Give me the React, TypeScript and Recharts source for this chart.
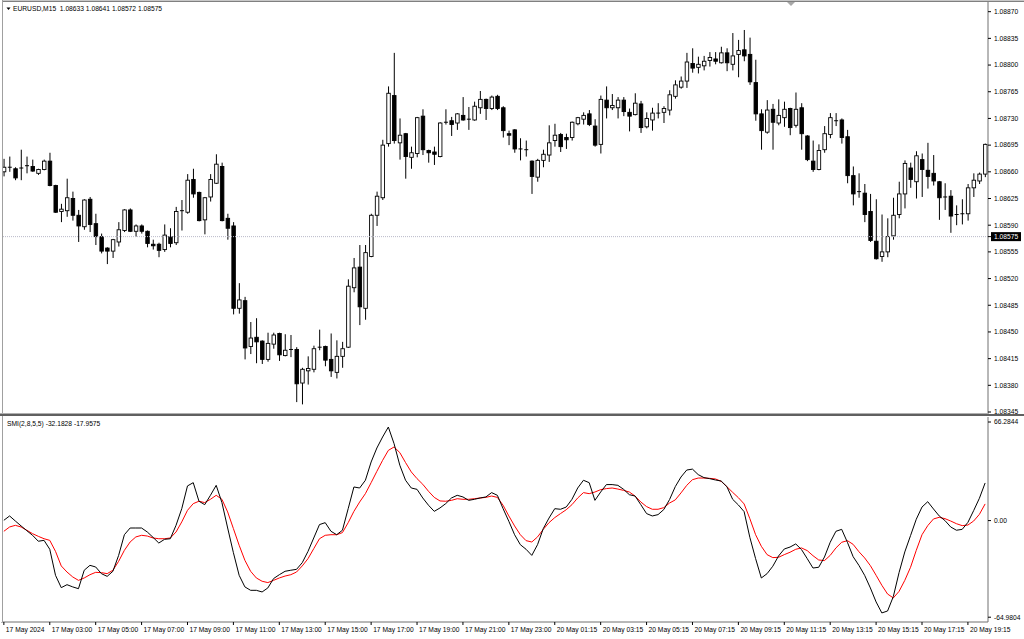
import { ComposedChart, Bar, Line, XAxis, YAxis, ReferenceLine } from "recharts";

const FONT = '"Liberation Sans", Arial, sans-serif';

// EURUSD M15, 17 May 01:00 .. 20 May 20:00
const open = [
  1.08660, 1.08665, 1.08664, 1.08664, 1.08667, 1.08667, 1.08658, 1.08663, 1.08674, 1.08642,
  1.08608, 1.08609, 1.08625, 1.08603, 1.08588, 1.08624, 1.08592, 1.08575, 1.08560, 1.08556,
  1.08568, 1.08583, 1.08610, 1.08582, 1.08589, 1.08582, 1.08565, 1.08565, 1.08558, 1.08575,
  1.08567, 1.08608, 1.08607, 1.08650, 1.08633, 1.08597, 1.08627, 1.08645, 1.08667, 1.08599,
  1.08589, 1.08481, 1.08491, 1.08431, 1.08443, 1.08438, 1.08414, 1.08434, 1.08448, 1.08419,
  1.08427, 1.08427, 1.08383, 1.08399, 1.08401, 1.08429, 1.08431, 1.08414, 1.08397, 1.08418,
  1.08430, 1.08508, 1.08535, 1.08481, 1.08549, 1.08603, 1.08626, 1.08697, 1.08760, 1.08698,
  1.08710, 1.08679, 1.08684, 1.08733, 1.08688, 1.08686, 1.08680, 1.08724, 1.08727, 1.08724,
  1.08734, 1.08728, 1.08728, 1.08744, 1.08755, 1.08743, 1.08759, 1.08744, 1.08710, 1.08715,
  1.08690, 1.08689, 1.08674, 1.08653, 1.08675, 1.08682, 1.08701, 1.08709, 1.08705, 1.08705,
  1.08723, 1.08729, 1.08736, 1.08720, 1.08696, 1.08754, 1.08744, 1.08744, 1.08754, 1.08738,
  1.08735, 1.08749, 1.08719, 1.08728, 1.08737, 1.08738, 1.08741, 1.08759, 1.08771, 1.08779,
  1.08802, 1.08797, 1.08799, 1.08806, 1.08808, 1.08803, 1.08816, 1.08801, 1.08814, 1.08820,
  1.08814, 1.08777, 1.08736, 1.08712, 1.08742, 1.08724, 1.08731, 1.08743, 1.08721, 1.08744,
  1.08707, 1.08674, 1.08663, 1.08689, 1.08709, 1.08727, 1.08728, 1.08706, 1.08655, 1.08633,
  1.08632, 1.08608, 1.08569, 1.08549, 1.08555, 1.08576, 1.08604, 1.08631, 1.08665, 1.08647,
  1.08676, 1.08662, 1.08658, 1.08647, 1.08626, 1.08628, 1.08603, 1.08604, 1.08605, 1.08639,
  1.08648, 1.08657,
];
const high = [
  1.08677, 1.08680, 1.08666, 1.08689, 1.08680, 1.08676, 1.08664, 1.08676, 1.08685, 1.08643,
  1.08618, 1.08651, 1.08634, 1.08610, 1.08624, 1.08627, 1.08605, 1.08579, 1.08561, 1.08572,
  1.08594, 1.08611, 1.08612, 1.08591, 1.08591, 1.08583, 1.08571, 1.08567, 1.08591, 1.08586,
  1.08614, 1.08623, 1.08657, 1.08664, 1.08634, 1.08627, 1.08657, 1.08683, 1.08672, 1.08605,
  1.08594, 1.08514, 1.08496, 1.08463, 1.08468, 1.08439, 1.08449, 1.08449, 1.08449, 1.08447,
  1.08446, 1.08430, 1.08403, 1.08418, 1.08432, 1.08453, 1.08432, 1.08448, 1.08439, 1.08437,
  1.08519, 1.08547, 1.08564, 1.08564, 1.08605, 1.08634, 1.08702, 1.08772, 1.08816, 1.08730,
  1.08711, 1.08693, 1.08732, 1.08742, 1.08689, 1.08693, 1.08725, 1.08742, 1.08732, 1.08737,
  1.08758, 1.08745, 1.08752, 1.08766, 1.08756, 1.08760, 1.08761, 1.08746, 1.08714, 1.08716,
  1.08704, 1.08701, 1.08675, 1.08677, 1.08689, 1.08721, 1.08723, 1.08711, 1.08710, 1.08726,
  1.08732, 1.08738, 1.08741, 1.08729, 1.08760, 1.08772, 1.08762, 1.08758, 1.08758, 1.08743,
  1.08763, 1.08753, 1.08738, 1.08744, 1.08750, 1.08746, 1.08767, 1.08780, 1.08785, 1.08816,
  1.08822, 1.08811, 1.08812, 1.08817, 1.08817, 1.08824, 1.08822, 1.08842, 1.08833, 1.08846,
  1.08836, 1.08807, 1.08742, 1.08754, 1.08749, 1.08755, 1.08752, 1.08744, 1.08764, 1.08750,
  1.08708, 1.08701, 1.08696, 1.08720, 1.08737, 1.08737, 1.08730, 1.08715, 1.08667, 1.08658,
  1.08644, 1.08631, 1.08624, 1.08604, 1.08599, 1.08626, 1.08647, 1.08675, 1.08672, 1.08687,
  1.08684, 1.08698, 1.08682, 1.08648, 1.08645, 1.08636, 1.08616, 1.08624, 1.08644, 1.08658,
  1.08659, 1.08697,
];
const low = [
  1.08654, 1.08660, 1.08649, 1.08649, 1.08658, 1.08660, 1.08656, 1.08662, 1.08641, 1.08606,
  1.08594, 1.08601, 1.08596, 1.08568, 1.08584, 1.08581, 1.08564, 1.08553, 1.08539, 1.08547,
  1.08562, 1.08581, 1.08581, 1.08575, 1.08579, 1.08561, 1.08558, 1.08548, 1.08555, 1.08561,
  1.08564, 1.08583, 1.08605, 1.08626, 1.08595, 1.08578, 1.08621, 1.08644, 1.08595, 1.08571,
  1.08473, 1.08474, 1.08414, 1.08421, 1.08409, 1.08408, 1.08411, 1.08428, 1.08412, 1.08418,
  1.08417, 1.08358, 1.08355, 1.08381, 1.08397, 1.08426, 1.08405, 1.08391, 1.08389, 1.08403,
  1.08429, 1.08502, 1.08459, 1.08466, 1.08548, 1.08589, 1.08623, 1.08693, 1.08697, 1.08676,
  1.08651, 1.08664, 1.08679, 1.08682, 1.08672, 1.08669, 1.08679, 1.08722, 1.08707, 1.08715,
  1.08727, 1.08715, 1.08727, 1.08736, 1.08728, 1.08741, 1.08741, 1.08705, 1.08695, 1.08685,
  1.08675, 1.08680, 1.08631, 1.08647, 1.08666, 1.08673, 1.08693, 1.08686, 1.08690, 1.08701,
  1.08721, 1.08722, 1.08720, 1.08693, 1.08684, 1.08730, 1.08741, 1.08730, 1.08733, 1.08713,
  1.08734, 1.08711, 1.08717, 1.08714, 1.08730, 1.08724, 1.08734, 1.08756, 1.08769, 1.08770,
  1.08790, 1.08789, 1.08793, 1.08798, 1.08801, 1.08802, 1.08792, 1.08793, 1.08784, 1.08805,
  1.08774, 1.08727, 1.08689, 1.08710, 1.08689, 1.08721, 1.08719, 1.08708, 1.08718, 1.08689,
  1.08674, 1.08660, 1.08662, 1.08685, 1.08704, 1.08720, 1.08697, 1.08645, 1.08616, 1.08626,
  1.08594, 1.08568, 1.08545, 1.08542, 1.08548, 1.08571, 1.08599, 1.08612, 1.08639, 1.08625,
  1.08627, 1.08638, 1.08642, 1.08597, 1.08610, 1.08580, 1.08590, 1.08591, 1.08596, 1.08627,
  1.08644, 1.08653,
];
const close = [
  1.08666, 1.08666, 1.08652, 1.08665, 1.08668, 1.08661, 1.08663, 1.08674, 1.08642, 1.08607,
  1.08611, 1.08626, 1.08603, 1.08589, 1.08623, 1.08591, 1.08575, 1.08556, 1.08556, 1.08571,
  1.08584, 1.08610, 1.08582, 1.08589, 1.08582, 1.08566, 1.08563, 1.08557, 1.08577, 1.08566,
  1.08608, 1.08609, 1.08649, 1.08631, 1.08596, 1.08626, 1.08650, 1.08670, 1.08596, 1.08586,
  1.08481, 1.08492, 1.08429, 1.08442, 1.08437, 1.08414, 1.08435, 1.08446, 1.08420, 1.08426,
  1.08426, 1.08382, 1.08401, 1.08402, 1.08428, 1.08430, 1.08413, 1.08399, 1.08418, 1.08428,
  1.08510, 1.08534, 1.08483, 1.08554, 1.08603, 1.08628, 1.08695, 1.08763, 1.08701, 1.08708,
  1.08680, 1.08685, 1.08731, 1.08689, 1.08685, 1.08683, 1.08724, 1.08725, 1.08722, 1.08736,
  1.08728, 1.08729, 1.08746, 1.08755, 1.08743, 1.08758, 1.08743, 1.08714, 1.08708, 1.08690,
  1.08689, 1.08688, 1.08654, 1.08675, 1.08683, 1.08698, 1.08708, 1.08693, 1.08702, 1.08725,
  1.08731, 1.08734, 1.08722, 1.08695, 1.08755, 1.08744, 1.08747, 1.08754, 1.08739, 1.08733,
  1.08750, 1.08718, 1.08730, 1.08737, 1.08737, 1.08743, 1.08761, 1.08774, 1.08779, 1.08804,
  1.08796, 1.08801, 1.08805, 1.08810, 1.08805, 1.08816, 1.08803, 1.08812, 1.08819, 1.08812,
  1.08778, 1.08736, 1.08714, 1.08741, 1.08725, 1.08734, 1.08742, 1.08718, 1.08742, 1.08710,
  1.08676, 1.08663, 1.08688, 1.08710, 1.08731, 1.08727, 1.08705, 1.08655, 1.08631, 1.08634,
  1.08604, 1.08570, 1.08546, 1.08555, 1.08575, 1.08603, 1.08631, 1.08671, 1.08650, 1.08681,
  1.08663, 1.08654, 1.08648, 1.08626, 1.08627, 1.08602, 1.08604, 1.08605, 1.08639, 1.08649,
  1.08657, 1.08696,
];

// SMI(2,8,5,5): main line (black) and signal (red)
const smiMain = [
  0.2, 3.1, -0.3, -3.6, -6.8, -9.9, -13.9, -13.3, -19.3, -36.8,
  -45.1, -43.1, -44.6, -45.8, -33.4, -30.1, -31.2, -35.7, -37.5, -34.1,
  -23.4, -9.5, -5.0, -5.0, -5.0, -7.7, -11.3, -15.1, -12.6, -12.2,
  -3.2, 8.0, 23.3, 25.5, 13.0, 10.7, 17.0, 23.7, 12.1, -5.0,
  -21.6, -36.8, -44.6, -46.9, -46.9, -48.0, -45.3, -39.0, -36.4, -34.1,
  -33.4, -32.8, -28.3, -20.7, -11.7, -2.7, -1.4, -7.2, -9.5, -6.5,
  8.0, 22.6, 21.9, 27.1, 39.4, 48.8, 56.2, 62.9, 51.7, 37.2,
  27.1, 21.9, 21.0, 15.2, 10.3, 6.2, 8.5, 11.4, 15.2, 17.0,
  15.9, 13.6, 14.3, 15.2, 15.9, 18.8, 17.0, 8.0, -0.5, -9.5,
  -16.2, -19.3, -23.4, -16.2, -5.4, 1.7, 8.0, 7.6, 9.1, 14.3,
  21.9, 27.1, 25.5, 13.6, 19.2, 24.2, 24.2, 23.7, 21.0, 17.4,
  16.5, 10.7, 4.7, 3.1, 4.0, 7.4, 14.1, 22.8, 29.3, 34.0,
  34.6, 30.9, 28.9, 28.2, 27.3, 26.6, 22.8, 14.3, 10.5, 6.0,
  -11.3, -25.6, -38.6, -35.7, -30.7, -23.8, -19.1, -17.8, -15.7, -19.5,
  -25.6, -31.9, -31.4, -24.5, -14.6, -7.2, -5.9, -14.6, -24.3, -30.1,
  -36.8, -45.3, -54.7, -62.1, -60.8, -51.1, -35.0, -21.1, -10.1, 0.9,
  9.1, 12.7, 7.8, 3.1, 0.0, -4.3, -6.5, -5.9, -1.2, 6.7,
  15.0, 25.3,
];
const smiSignal = [
  -7.2, -4.3, -3.2, -4.3, -6.5, -8.8, -10.6, -12.2, -13.3, -20.7,
  -30.5, -34.6, -37.9, -40.2, -38.6, -36.4, -34.8, -35.0, -35.7, -33.4,
  -27.4, -20.0, -14.4, -11.0, -9.9, -10.4, -11.7, -12.2, -12.2, -11.7,
  -7.7, -0.9, 6.9, 11.4, 13.0, 12.1, 14.3, 17.0, 14.3, 5.8,
  -5.4, -16.6, -26.7, -34.1, -38.6, -40.8, -41.7, -40.2, -38.6, -37.3,
  -36.4, -34.6, -30.5, -25.6, -18.9, -12.2, -9.9, -9.5, -9.5, -8.1,
  -1.4, 6.2, 12.5, 18.1, 25.5, 33.1, 40.5, 47.2, 49.5, 45.7,
  39.0, 32.7, 28.2, 24.4, 19.7, 15.6, 13.2, 13.0, 13.6, 14.7,
  14.3, 14.3, 14.7, 15.2, 15.6, 16.5, 15.6, 10.3, 3.1, -3.6,
  -9.5, -13.5, -14.4, -11.0, -5.9, -1.4, 2.0, 4.7, 7.3, 10.7,
  15.2, 18.8, 18.1, 19.2, 20.8, 21.5, 21.9, 21.2, 20.3, 19.2,
  16.5, 12.5, 9.4, 7.6, 7.6, 8.7, 11.8, 13.9, 18.6, 23.7,
  27.5, 28.6, 28.6, 28.4, 28.0, 26.4, 22.8, 19.0, 15.4, 11.2,
  1.3, -9.5, -17.3, -22.9, -24.9, -24.7, -22.9, -21.3, -19.3, -18.4,
  -20.2, -23.6, -26.5, -26.9, -23.4, -18.4, -14.6, -13.5, -16.0, -20.9,
  -25.1, -30.3, -36.8, -43.5, -49.4, -52.0, -47.6, -40.2, -31.4, -20.0,
  -9.5, -3.4, 1.1, 2.2, 1.3, -0.3, -2.1, -3.4, -3.0, -0.3,
  4.2, 11.2,
];

const priceTicks = [
  1.0887, 1.08835, 1.088, 1.08765, 1.0873, 1.08695, 1.0866, 1.08625,
  1.0859, 1.08575, 1.08555, 1.0852, 1.08485, 1.0845, 1.08415, 1.0838, 1.08345,
];
const bidPrice = 1.08575;
const smiTicks = [66.2844, 0, -64.9804];
const smiTickText = ["66.2844", "0.00", "-64.9804"];
const timeTickIdx = [0, 8, 16, 24, 32, 40, 48, 56, 64, 72, 80, 88, 96, 104, 112, 120, 128, 136, 144, 152, 160, 168];
const timeTickText = [
  "17 May 2024", "17 May 03:00", "17 May 05:00", "17 May 07:00", "17 May 09:00", "17 May 11:00",
  "17 May 13:00", "17 May 15:00", "17 May 17:00", "17 May 19:00", "17 May 21:00", "17 May 23:00",
  "20 May 01:15", "20 May 03:15", "20 May 05:15", "20 May 07:15", "20 May 09:15", "20 May 11:15",
  "20 May 13:15", "20 May 15:15", "20 May 17:15", "20 May 19:15",
];

function barTime(i: number) {
  const mins = i < 92 ? 60 + i * 15 : 15 + (i - 92) * 15;
  const hh = String(Math.floor(mins / 60)).padStart(2, "0");
  const mm = String(mins % 60).padStart(2, "0");
  return `${i < 92 ? "17 May" : "20 May"} ${hh}:${mm}`;
}

const rows = open.map((o, i) => ({
  i,
  t: barTime(i),
  o,
  h: high[i],
  l: low[i],
  c: close[i],
  range: [low[i], high[i]],
  smi: smiMain[i],
  sig: smiSignal[i],
}));

function Candle(props: any) {
  const { x, y, width, height, payload } = props;
  const { o, h, l, c } = payload;
  const cx = x + width / 2;
  const span = h - l || 1e-9;
  const toY = (p: number) => y + ((h - p) / span) * height;
  const top = Math.min(toY(o), toY(c));
  const bot = Math.max(toY(o), toY(c));
  const up = c >= o;
  return (
    <g>
      <line x1={cx} x2={cx} y1={y} y2={y + height} stroke="#000" strokeWidth={1} />
      {bot - top < 1 ? (
        <line x1={cx - 2} x2={cx + 2} y1={top} y2={top} stroke="#000" strokeWidth={1} />
      ) : (
        <rect x={cx - 1.75} y={top} width={3.5} height={bot - top}
          fill={up ? "#fff" : "#000"} stroke="#000" strokeWidth={0.9} />
      )}
    </g>
  );
}

function PriceTick({ x, y, payload }: any) {
  const v = payload.value as number;
  const txt = v.toFixed(5);
  if (Math.abs(v - bidPrice) < 1e-7) {
    return (
      <g>
        <rect x={x - 3} y={y - 4.5} width={30} height={9} fill="#000" />
        <text x={x} y={y} dy="0.35em" fontSize={6.7} fontFamily={FONT} fill="#fff">{txt}</text>
      </g>
    );
  }
  return (
    <text x={x} y={y} dy="0.35em" fontSize={6.7} fontFamily={FONT} fill="#000">{txt}</text>
  );
}

function SmiTick({ x, y, payload }: any) {
  const k = smiTicks.indexOf(payload.value);
  return (
    <text x={x} y={y} dy="0.35em" fontSize={6.7} fontFamily={FONT} fill="#000">
      {smiTickText[k]}
    </text>
  );
}

function TimeTick({ x, y, payload }: any) {
  const k = timeTickIdx.indexOf(payload.value);
  return (
    <g>
      <line x1={x} x2={x} y1={y} y2={y + 3} stroke="#000" />
      <text x={x + 2} y={y + 9.5} fontSize={6.7} fontFamily={FONT} fill="#000">
        {timeTickText[k]}
      </text>
    </g>
  );
}

export default function App() {
  return (
    <div style={{ position: "absolute", left: 0, top: 0, width: 1024, height: 639, background: "#fff", overflow: "hidden" }}>
      <div style={{ position: "absolute", left: 0, top: 0 }}>
        <ComposedChart width={1024} height={416} data={rows} margin={{ top: 2, right: 0, bottom: 3, left: 1 }}>
          <XAxis dataKey="t" hide />
          <YAxis
            orientation="right"
            width={36}
            domain={[1.083437, 1.088827]}
            allowDataOverflow
            ticks={priceTicks}
            interval={0}
            tickSize={3}
            tickMargin={3}
            tickLine={{ stroke: "#000" }}
            axisLine={{ stroke: "#707070" }}
            tick={<PriceTick />}
          />
          <ReferenceLine y={bidPrice} stroke="#B8B8C8" strokeDasharray="1 1" ifOverflow="extendDomain" />
          <Bar dataKey="range" shape={<Candle />} isAnimationActive={false} />
        </ComposedChart>
      </div>
      <div style={{ position: "absolute", left: 0, top: 416 }}>
        <ComposedChart width={1024} height={223} data={rows} margin={{ top: 1, right: 0, bottom: 1, left: 1 }}>
          <XAxis
            dataKey="i"
            type="number"
            domain={[-0.5, 171.5]}
            ticks={timeTickIdx}
            interval={0}
            height={16}
            tickSize={0}
            tickMargin={0}
            tickLine={false}
            axisLine={{ stroke: "#707070" }}
            tick={<TimeTick />}
          />
          <YAxis
            orientation="right"
            width={36}
            domain={[-68.2, 69.65]}
            allowDataOverflow
            ticks={smiTicks}
            interval={0}
            tickSize={3}
            tickMargin={3}
            tickLine={{ stroke: "#000" }}
            axisLine={{ stroke: "#707070" }}
            tick={<SmiTick />}
          />
          <Line dataKey="sig" stroke="#FF0000" strokeWidth={1} dot={false} activeDot={false} isAnimationActive={false} />
          <Line dataKey="smi" stroke="#000" strokeWidth={1} dot={false} activeDot={false} isAnimationActive={false} />
        </ComposedChart>
      </div>

      {/* window frame and pane separator */}
      <div style={{ position: "absolute", left: 0, top: 0, width: 1024, height: 1, background: "#C8C8C8" }} />
      <div style={{ position: "absolute", left: 0, top: 1, width: 1024, height: 1, background: "#808080" }} />
      <div style={{ position: "absolute", left: 0, top: 0, width: 3, height: 622, background: "#fff" }} />
      <div style={{ position: "absolute", left: 2, top: 0, width: 1, height: 622, background: "#A0A0A0" }} />
      <div style={{ position: "absolute", left: 0, top: 413, width: 989, height: 1, background: "#B0B0B0" }} />
      <div style={{ position: "absolute", left: 0, top: 414, width: 1024, height: 2, background: "#606060" }} />
      <svg style={{ position: "absolute", left: 0, top: 0 }} width={1024} height={20}>
        <polygon points="787,2 795,2 791,6" fill="#A8A8A8" />
        <polygon points="6.5,7.5 10.5,7.5 8.5,10" fill="#000" />
      </svg>

      <div style={{ position: "absolute", left: 13, top: 5, fontFamily: FONT, fontSize: 6.7, lineHeight: "8px", whiteSpace: "pre", color: "#000" }}>
        EURUSD,M15  1.08633 1.08641 1.08572 1.08575
      </div>
      <div style={{ position: "absolute", left: 7, top: 420, fontFamily: FONT, fontSize: 6.7, lineHeight: "8px", whiteSpace: "pre", color: "#000" }}>
        SMI(2,8,5,5) -32.1828 -17.9575
      </div>
    </div>
  );
}
